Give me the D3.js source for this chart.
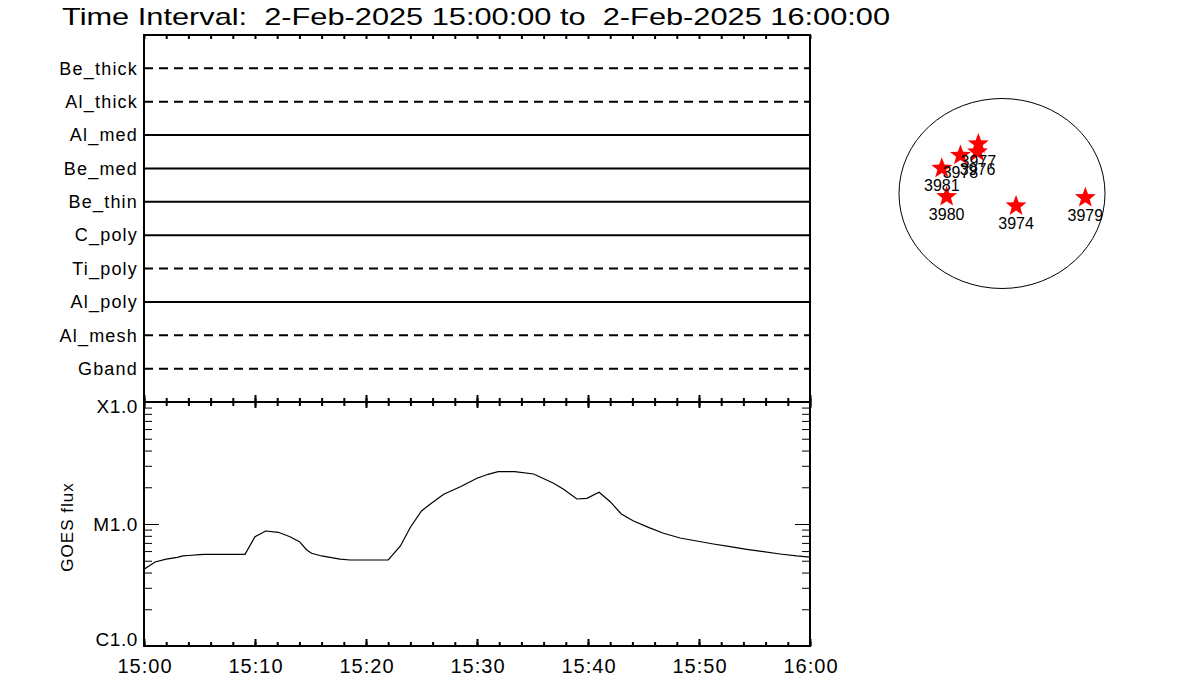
<!DOCTYPE html>
<html><head><meta charset="utf-8">
<script src="https://cdn.jsdelivr.net/npm/d3@7"></script>
<style>
body{margin:0;background:#fff}
svg{display:block}
text{font-family:"Liberation Sans",Arial,sans-serif;fill:#000;white-space:pre}
</style>
</head><body>
<svg id="c" width="1200" height="700"></svg>
<script>
// ---------------- data ----------------
const titleText = "Time Interval:  2-Feb-2025 15:00:00 to  2-Feb-2025 16:00:00";
const filters = ["Be_thick","Al_thick","Al_med","Be_med","Be_thin","C_poly","Ti_poly","Al_poly","Al_mesh","Gband"];
const filterDashed = [true,true,false,false,false,false,true,false,true,true];

// GOES flux (W/m^2), time in minutes after 15:00
const goesMinutes = [0,1,2,3,3.5,4,5,5.5,9.1,10,10.96,12.1,13.15,14,14.66,15.1,16,17.66,18.56,22,23.1,24,25,25.8,27,28.5,30,31,31.9,33.4,35.1,36.9,37.8,39,39.9,41,42,43,44.1,45.5,46.8,48.3,49.8,51.3,52.8,54.3,55.8,57.3,58.8,60];
const goesFlux = [4.25e-6,4.88e-6,5.16e-6,5.33e-6,5.47e-6,5.52e-6,5.62e-6,5.64e-6,5.64e-6,7.87e-6,8.76e-6,8.55e-6,7.87e-6,7.16e-6,6.12e-6,5.75e-6,5.47e-6,5.16e-6,5.07e-6,5.07e-6,6.60e-6,9.40e-6,1.279e-5,1.459e-5,1.752e-5,2.022e-5,2.369e-5,2.555e-5,2.684e-5,2.684e-5,2.569e-5,2.156e-5,1.925e-5,1.603e-5,1.624e-5,1.819e-5,1.524e-5,1.208e-5,1.058e-5,9.33e-6,8.39e-6,7.68e-6,7.26e-6,6.86e-6,6.52e-6,6.20e-6,5.93e-6,5.68e-6,5.47e-6,5.36e-6];

const fluxTickValues = [1e-6,1e-5,1e-4];
const fluxTickLabels = ["C1.0","M1.0","X1.0"];
const timeTickLabels = ["15:00","15:10","15:20","15:30","15:40","15:50","16:00"];

// active regions (arcsec from disk centre)
const arNumbers = ["3974","3979","3980","3981","3978","3977","3976"];
const arX = [133,789,-524,-570,-393,-224,-232];
const arY = [-118,-33,-22,269,401,519,436];
const solarRadius = 975;

// ---------------- layout ----------------
const svg = d3.select("#c");
const L = 144, R = 810, T1 = 35, B1 = 402, B2 = 646;
const t0 = new Date(Date.UTC(2025,1,2,15,0,0));
const t1 = new Date(Date.UTC(2025,1,2,16,0,0));
const x = d3.scaleUtc().domain([t0,t1]).range([L,R]);
const minuteToDate = m => new Date(t0.getTime() + m*60000);

// title
svg.append("text").attr("x",62).attr("y",25)
  .attr("font-size",24).attr("textLength",828).attr("lengthAdjust","spacingAndGlyphs")
  .text(titleText);

// ---------------- upper panel ----------------
const yF = d3.scalePoint().domain(filters).range([T1,B1]).padding(1);
const up = svg.append("g");
filters.forEach((f,i)=>{
  up.append("line").attr("x1",L).attr("x2",R).attr("y1",yF(f)).attr("y2",yF(f))
    .attr("stroke","#000").attr("stroke-width",2)
    .attr("stroke-dasharray",filterDashed[i] ? "9,6" : null);
});
const axF = up.append("g").attr("transform",`translate(${L},0)`)
  .call(d3.axisLeft(yF).tickSize(0).tickPadding(6));
axF.select(".domain").remove();
axF.selectAll("text").attr("font-size",18).attr("font-family",null)
  .attr("letter-spacing","1.2px");

const minorTimes = d3.range(0,61,2).map(minuteToDate);
const majorTimes = d3.range(0,61,10).map(minuteToDate);
// top ticks of upper panel
svg.append("g").attr("transform",`translate(0,${T1})`)
  .call(d3.axisTop(x).tickValues(minorTimes).tickSize(-4).tickFormat(""))
  .call(g=>g.select(".domain").remove())
  .selectAll("line").attr("stroke-width",2);
// bottom ticks of upper panel (pointing up)
svg.append("g").attr("transform",`translate(0,${B1})`)
  .call(d3.axisBottom(x).tickValues(minorTimes).tickSize(-4).tickFormat(""))
  .call(g=>g.select(".domain").remove())
  .selectAll("line").attr("stroke-width",2);
svg.append("g").attr("transform",`translate(0,${B1})`)
  .call(d3.axisBottom(x).tickValues(majorTimes).tickSize(-7).tickFormat(""))
  .call(g=>g.select(".domain").remove())
  .selectAll("line").attr("stroke-width",2);

// ---------------- lower panel ----------------
const y = d3.scaleLog().domain([1e-6,1e-4]).range([B2,B1]);
// top ticks of lower panel (pointing down)
svg.append("g").attr("transform",`translate(0,${B1})`)
  .call(d3.axisTop(x).tickValues(minorTimes).tickSize(-4).tickFormat(""))
  .call(g=>g.select(".domain").remove())
  .selectAll("line").attr("stroke-width",2);
svg.append("g").attr("transform",`translate(0,${B1})`)
  .call(d3.axisTop(x).tickValues(majorTimes).tickSize(-6).tickFormat(""))
  .call(g=>g.select(".domain").remove())
  .selectAll("line").attr("stroke-width",2);
// bottom ticks (pointing up)
svg.append("g").attr("transform",`translate(0,${B2})`)
  .call(d3.axisBottom(x).tickValues(minorTimes).tickSize(-4).tickFormat(""))
  .call(g=>g.select(".domain").remove())
  .selectAll("line").attr("stroke-width",2);
svg.append("g").attr("transform",`translate(0,${B2})`)
  .call(d3.axisBottom(x).tickValues(majorTimes).tickSize(-7).tickFormat(""))
  .call(g=>g.select(".domain").remove())
  .selectAll("line").attr("stroke-width",2);
// bottom labels
const axX = svg.append("g").attr("transform",`translate(0,${B2})`)
  .call(d3.axisBottom(x).tickValues(majorTimes).tickSize(0).tickPadding(13)
    .tickFormat((d,i)=>timeTickLabels[i]));
axX.select(".domain").remove();
axX.selectAll("text").attr("font-size",20).attr("font-family",null)
  .attr("letter-spacing","1px").attr("dx","0.5px");

// log minor ticks
const minorFlux = [];
[1e-6,1e-5].forEach(dec=>{ for(let k=2;k<=9;k++) minorFlux.push(dec*k); });
svg.append("g").attr("transform",`translate(${L},0)`)
  .call(d3.axisLeft(y).tickValues(minorFlux).tickSize(-8).tickFormat(""))
  .call(g=>g.select(".domain").remove())
  .selectAll("line").attr("stroke-width",1);
svg.append("g").attr("transform",`translate(${L},0)`)
  .call(d3.axisLeft(y).tickValues([1e-5]).tickSize(-15).tickFormat(""))
  .call(g=>g.select(".domain").remove())
  .selectAll("line").attr("stroke-width",1);
svg.append("g").attr("transform",`translate(${R},0)`)
  .call(d3.axisRight(y).tickValues(minorFlux).tickSize(-8).tickFormat(""))
  .call(g=>g.select(".domain").remove())
  .selectAll("line").attr("stroke-width",1);
svg.append("g").attr("transform",`translate(${R},0)`)
  .call(d3.axisRight(y).tickValues([1e-5]).tickSize(-15).tickFormat(""))
  .call(g=>g.select(".domain").remove())
  .selectAll("line").attr("stroke-width",1);
const axY = svg.append("g").attr("transform",`translate(${L},0)`)
  .call(d3.axisLeft(y).tickValues(fluxTickValues).tickSize(0).tickPadding(6)
    .tickFormat((d,i)=>fluxTickLabels[i]));
axY.select(".domain").remove();
axY.selectAll("text").attr("font-size",19).attr("font-family",null)
  .attr("letter-spacing","0.6px")
  .attr("dy",(d,i)=> i===0 ? "-0.05em" : (i===2 ? "0.55em" : "0.32em"));

svg.append("text").attr("transform",`translate(73,${(B1+B2)/2+3}) rotate(-90)`)
  .attr("text-anchor","middle").attr("font-size",17).attr("letter-spacing","1px").text("GOES flux");

// curve
const line = d3.line().x((d,i)=>x(minuteToDate(goesMinutes[i]))).y(d=>y(d));
svg.append("path").datum(goesFlux).attr("d",line)
  .attr("fill","none").attr("stroke","#000").attr("stroke-width",1.2);

// frames
const frame = svg.append("g").attr("fill","none").attr("stroke","#000").attr("stroke-width",2);
frame.append("path").attr("d",`M${L},${B1}V${T1}H${R}V${B1}`);
frame.append("rect").attr("x",L).attr("y",B1).attr("width",R-L).attr("height",B2-B1);

// ---------------- solar disk ----------------
const sx = d3.scaleLinear().domain([-solarRadius,solarRadius]).range([899,1105]);
const sy = d3.scaleLinear().domain([-solarRadius,solarRadius]).range([288.5,98.5]);
svg.append("ellipse").attr("cx",sx(0)).attr("cy",sy(0))
  .attr("rx",sx(solarRadius)-sx(0)).attr("ry",sy(0)-sy(solarRadius))
  .attr("fill","none").attr("stroke","#000").attr("stroke-width",1);

function starPath(ro, ri){
  const pts=[];
  for(let k=0;k<10;k++){
    const r = k%2===0 ? ro : ri;
    const a = -Math.PI/2 + k*Math.PI/5;
    pts.push([r*Math.cos(a), r*Math.sin(a)]);
  }
  return "M"+pts.map(p=>p[0].toFixed(2)+","+p[1].toFixed(2)).join("L")+"Z";
}
const sp = starPath(11,4.6);
const ar = arNumbers.map((n,i)=>({n, x:arX[i], y:arY[i]}));
svg.append("g").selectAll("path").data(ar).join("path")
  .attr("d",sp).attr("transform",d=>`translate(${sx(d.x)},${sy(d.y)+1})`)
  .attr("fill","#ff0000");
svg.append("g").selectAll("text").data(ar).join("text")
  .attr("x",d=>sx(d.x)).attr("y",d=>sy(d.y)+24)
  .attr("text-anchor","middle").attr("font-size",16).text(d=>d.n);
</script>
</body></html>
